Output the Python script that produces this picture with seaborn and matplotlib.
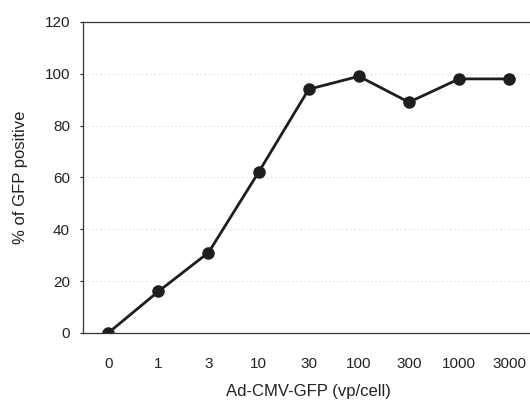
import pandas as pd
import matplotlib
matplotlib.use("Agg")
import matplotlib.pyplot as plt
import seaborn as sns

doses = ["0", "1", "3", "10", "30", "100", "300", "1000", "3000"]
gfp_positive = [0, 16, 31, 62, 94, 99, 89, 98, 98]

data = pd.DataFrame({"dose": doses, "gfp": gfp_positive})

sns.set_style("white")
plt.rcParams["font.family"] = ["Liberation Sans", "DejaVu Sans"]

fig = plt.figure(figsize=(5.3, 4.05), dpi=100)
ax = fig.add_axes([0.157, 0.178, 0.851, 0.768])

sns.pointplot(data=data, x="dose", y="gfp", order=doses, color="#1e1e1e",
              markers="o", markersize=7.5, linewidth=2.0, ax=ax)

ax.set_xlim(-0.5, 8.5)
ax.set_ylim(0, 120)
ax.set_yticks(range(0, 121, 20))
for y in range(20, 121, 20):
    ax.axhline(y, color="#d8d8d8", linestyle=(0, (2, 3)), linewidth=0.6, zorder=0)

for side in ["left", "bottom", "top"]:
    ax.spines[side].set_color("#333333")
    ax.spines[side].set_linewidth(0.9)
ax.spines["right"].set_visible(False)

ax.tick_params(axis="y", left=True, length=2.5, width=0.8, labelsize=11, pad=7, colors="#222222")
ax.tick_params(axis="x", bottom=False, labelsize=11, pad=14, colors="#222222")

ax.set_xlabel("Ad-CMV-GFP (vp/cell)", fontsize=12, color="#222222", labelpad=9)
ax.set_ylabel("% of GFP positive", fontsize=12, color="#222222", labelpad=12)

fig.savefig("out.png", dpi=100)
